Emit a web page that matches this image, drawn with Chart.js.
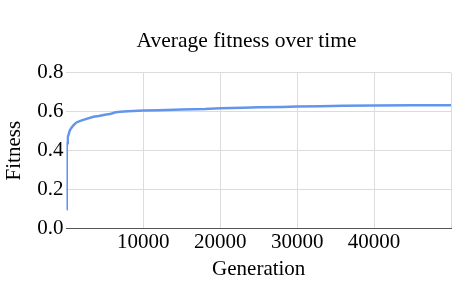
<!DOCTYPE html>
<html>
<head>
<meta charset="utf-8">
<script src="https://cdn.jsdelivr.net/npm/chart.js@4"></script>
<style>
  html, body { margin: 0; padding: 0; background: #fff; }
  #wrap { width: 465px; height: 287px; }
</style>
</head>
<body>
<div id="wrap"><canvas id="chartCanvas" width="465" height="287"></canvas></div>
<script>
// generation numbers and average fitness
const generations = [0, 20, 40, 65, 100, 130, 200, 260, 400, 520, 700, 900, 1300, 1800, 2500, 3500, 4200, 5000, 5800, 6400, 7000, 8000, 10000, 12000, 15000, 18000, 20000, 23000, 25000, 28000, 30000, 33000, 36000, 40000, 45000, 50000];
const fitness = [0.10, 0.25, 0.34, 0.42, 0.44, 0.46, 0.47, 0.48, 0.50, 0.51, 0.52, 0.53, 0.545, 0.553, 0.562, 0.574, 0.578, 0.585, 0.59, 0.597, 0.60, 0.602, 0.606, 0.608, 0.611, 0.614, 0.618, 0.62, 0.623, 0.625, 0.627, 0.628, 0.631, 0.632, 0.633, 0.633];

const xTicks = [10000, 20000, 30000, 40000];
const yTicks = [0.0, 0.2, 0.4, 0.6, 0.8];

const serif = "'Liberation Serif', 'Times New Roman', serif";

const points = generations.map((g, i) => ({ x: g, y: fitness[i] }));

// title sits a bit right of the canvas centre in the original
const titleShift = {
    id: 'titleShift',
    afterLayout(chart) {
        if (chart.titleBlock) chart.titleBlock.left += 40;
    }
};

const ctx = document.getElementById('chartCanvas').getContext('2d');
new Chart(ctx, {
    type: 'line',
    data: {
        datasets: [{
            label: 'Fitness',
            data: points,
            borderColor: '#6495ed',
            borderWidth: 2.5,
            pointRadius: 0,
            tension: 0,
            fill: false
        }]
    },
    plugins: [titleShift],
    options: {
        responsive: false,
        animation: false,
        layout: { padding: { left: 2, right: 14, top: 28, bottom: 5 } },
        plugins: {
            legend: { display: false },
            tooltip: { enabled: false },
            title: {
                display: true,
                text: 'Average fitness over time',
                color: '#000',
                font: { family: serif, size: 21.5, weight: 'normal' },
                padding: { top: 0, bottom: 19 }
            }
        },
        scales: {
            x: {
                type: 'linear',
                min: 0,
                max: 50000,
                afterBuildTicks: axis => {
                    axis.ticks = [0].concat(xTicks, [50000]).map(v => ({ value: v }));
                },
                ticks: {
                    color: '#000',
                    font: { family: serif, size: 21 },
                    padding: 1,
                    maxRotation: 0,
                    callback: v => (xTicks.includes(v) ? String(v) : '')
                },
                grid: {
                    drawTicks: false,
                    color: c => (c.tick && c.tick.value === 0 ? 'rgba(0,0,0,0)' : '#dcdcdc')
                },
                border: { display: true, color: '#555', width: 1 },
                title: {
                    display: true,
                    text: 'Generation',
                    color: '#000',
                    font: { family: serif, size: 21 },
                    padding: { top: 1, bottom: 0 }
                }
            },
            y: {
                min: 0,
                max: 0.8,
                afterBuildTicks: axis => {
                    axis.ticks = yTicks.map(v => ({ value: v }));
                },
                ticks: {
                    color: '#000',
                    font: { family: serif, size: 21 },
                    padding: 3,
                    callback: v => v.toFixed(1)
                },
                grid: {
                    drawTicks: false,
                    color: c => (c.tick && c.tick.value === 0 ? 'rgba(0,0,0,0)' : '#dcdcdc')
                },
                border: { display: false },
                title: {
                    display: true,
                    text: 'Fitness',
                    color: '#000',
                    font: { family: serif, size: 21 },
                    padding: { top: 0, bottom: 7 }
                }
            }
        }
    }
});
</script>
</body>
</html>
